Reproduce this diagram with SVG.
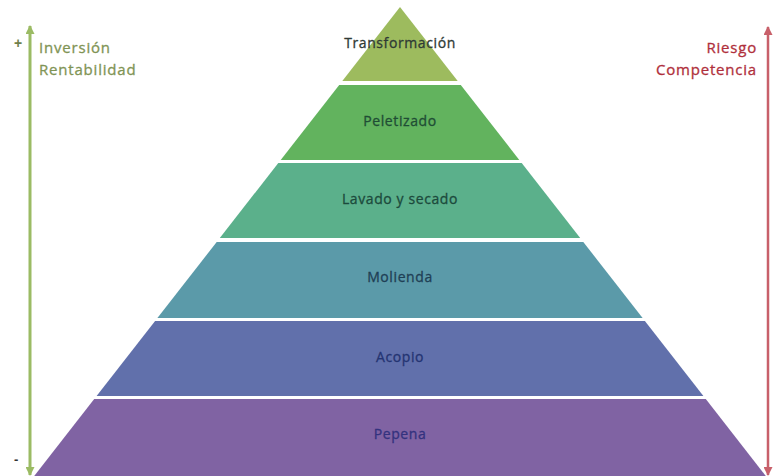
<svg xmlns="http://www.w3.org/2000/svg" width="775" height="476" viewBox="0 0 775 476">
  <style>
    .lbl { font-family: "Open Sans", "Liberation Sans", sans-serif; font-size: 14px; letter-spacing: 0.6px; text-anchor: middle; stroke-width: 0.3px; }
    .side { font-family: "Open Sans", "Liberation Sans", sans-serif; font-size: 15px; letter-spacing: 0.8px; stroke-width: 0.3px; }
  </style>
  <defs>
    <marker id="ag" viewBox="0 0 10 10" refX="9" refY="5" markerWidth="3.8" markerHeight="3" orient="auto-start-reverse" markerUnits="strokeWidth">
      <path d="M0,0 L10,5 L0,10 Z" fill="#9bbb64"/>
    </marker>
    <marker id="ar" viewBox="0 0 10 10" refX="9" refY="5" markerWidth="4.2" markerHeight="3.6" orient="auto-start-reverse" markerUnits="strokeWidth">
      <path d="M0,0 L10,5 L0,10 Z" fill="#c8606a"/>
    </marker>
  </defs>
  <rect width="775" height="476" fill="#ffffff"/>

  <g id="transformacion">
    <polygon points="400,7 457.7,81 342.3,81" fill="#9dbb5e"/>
    <text class="lbl" x="400" y="48" fill="#2f3a35" stroke="#2f3a35">Transformación</text>
  </g>
  <g id="peletizado">
    <polygon points="339.2,85 460.8,85 519.3,160 280.7,160" fill="#62b35e"/>
    <text class="lbl" x="400" y="126" fill="#1f4d35" stroke="#1f4d35">Peletizado</text>
  </g>
  <g id="lavado">
    <polygon points="278.3,163 521.7,163 580.2,238 219.8,238" fill="#5bb08b"/>
    <text class="lbl" x="400" y="204" fill="#1c4a3c" stroke="#1c4a3c">Lavado y secado</text>
  </g>
  <g id="molienda">
    <polygon points="216.7,242 583.3,242 642.6,318 157.4,318" fill="#5b9aa9"/>
    <text class="lbl" x="400" y="282" fill="#1f3f55" stroke="#1f3f55">Molienda</text>
  </g>
  <g id="acopio">
    <polygon points="155.1,321 644.9,321 703.4,396 96.6,396" fill="#6170ab"/>
    <text class="lbl" x="400" y="362" fill="#243472" stroke="#243472">Acopio</text>
  </g>
  <g id="pepena">
    <polygon points="94.2,399 705.8,399 765.8,476 34.2,476" fill="#8063a3"/>
    <text class="lbl" x="400" y="439" fill="#33327e" stroke="#33327e">Pepena</text>
  </g>

  <g id="connectors">
    <line x1="30" y1="26" x2="30" y2="475" stroke="#9bbb64" stroke-width="3" marker-start="url(#ag)" marker-end="url(#ag)"/>
    <line x1="768" y1="27" x2="768" y2="475" stroke="#c8606a" stroke-width="2.5" marker-start="url(#ar)" marker-end="url(#ar)"/>
  </g>

  <g id="left-labels">
    <text x="14" y="48" fill="#6f7f4a" style="font-family:'Liberation Sans',sans-serif;font-size:14px;font-weight:bold">+</text>
    <text x="14" y="464" fill="#333333" style="font-family:'Liberation Sans',sans-serif;font-size:13px;font-weight:bold">-</text>
    <text class="side" x="39" y="53" fill="#7f9455" stroke="#7f9455">Inversión</text>
    <text class="side" x="39" y="75" fill="#7f9455" stroke="#7f9455">Rentabilidad</text>
  </g>
  <g id="right-labels">
    <text class="side" x="757" y="53" fill="#b0303c" stroke="#b0303c" text-anchor="end">Riesgo</text>
    <text class="side" x="757" y="75" fill="#b0303c" stroke="#b0303c" text-anchor="end">Competencia</text>
  </g>
</svg>
